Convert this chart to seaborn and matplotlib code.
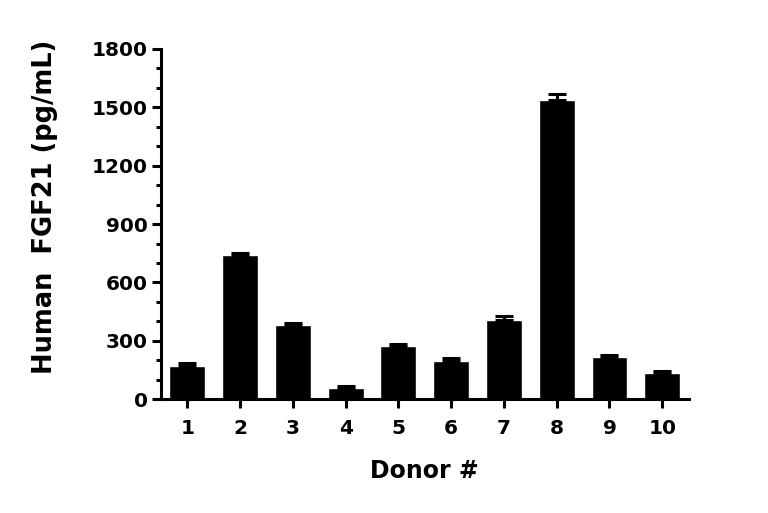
import numpy as np
import pandas as pd
import matplotlib
matplotlib.use("Agg")
import matplotlib.pyplot as plt
from matplotlib.ticker import MultipleLocator
import seaborn as sns

# values
donors = ["1", "2", "3", "4", "5", "6", "7", "8", "9", "10"]
fgf21 = [172, 740, 382, 57, 271, 195, 408, 1536, 216, 134]
sem = [16, 10, 8, 9, 11, 14, 20, 34, 12, 10]

sns.set_style("ticks")
plt.rcParams['font.family'] = ['DejaVu Sans']
plt.rcParams['font.weight'] = 'bold'
plt.rcParams['text.color'] = 'black'
plt.rcParams['axes.labelcolor'] = 'black'
plt.rcParams['xtick.color'] = 'black'
plt.rcParams['ytick.color'] = 'black'
plt.rcParams['axes.edgecolor'] = 'black'

df = pd.DataFrame({"donor": donors, "fgf21": fgf21})

fig = plt.figure(figsize=(7.68, 5.13), dpi=100)
ax = fig.add_axes([0.2096, 0.222, 0.687, 0.6825])

sns.barplot(data=df, x="donor", y="fgf21", color="black", width=0.68,
            saturation=1, errorbar=None, ax=ax)
# upward-only error bars like the original figure
ax.errorbar(np.arange(len(donors)), fgf21, yerr=[np.zeros(len(sem)), sem],
            fmt="none", ecolor="black", elinewidth=2.2, capsize=6.5,
            capthick=2.2, zorder=1)

ax.set_xlim(-0.5, 9.5)
ax.set_ylim(0, 1800)
ax.yaxis.set_major_locator(MultipleLocator(300))
ax.yaxis.set_minor_locator(MultipleLocator(100))

sns.despine(ax=ax)
for side in ["left", "bottom"]:
    ax.spines[side].set_linewidth(2.2)
ax.tick_params(axis="both", which="major", length=6.5, width=2.2,
               labelsize=14.5, labelcolor="black", color="black")
ax.tick_params(axis="x", which="major", pad=8)
ax.tick_params(axis="y", which="major", pad=3)
ax.tick_params(axis="y", which="minor", length=3.5, width=2.2, color="black")
for lbl in ax.get_xticklabels() + ax.get_yticklabels():
    lbl.set_fontweight("bold")

ax.set_xlabel("Donor #", fontsize=17, fontweight="bold", labelpad=15)
ax.set_ylabel("Human  FGF21 (pg/mL)", fontsize=18.5, fontweight="bold")
ax.yaxis.set_label_coords(-0.196, 0.55)

fig.savefig("out.png", dpi=100)
